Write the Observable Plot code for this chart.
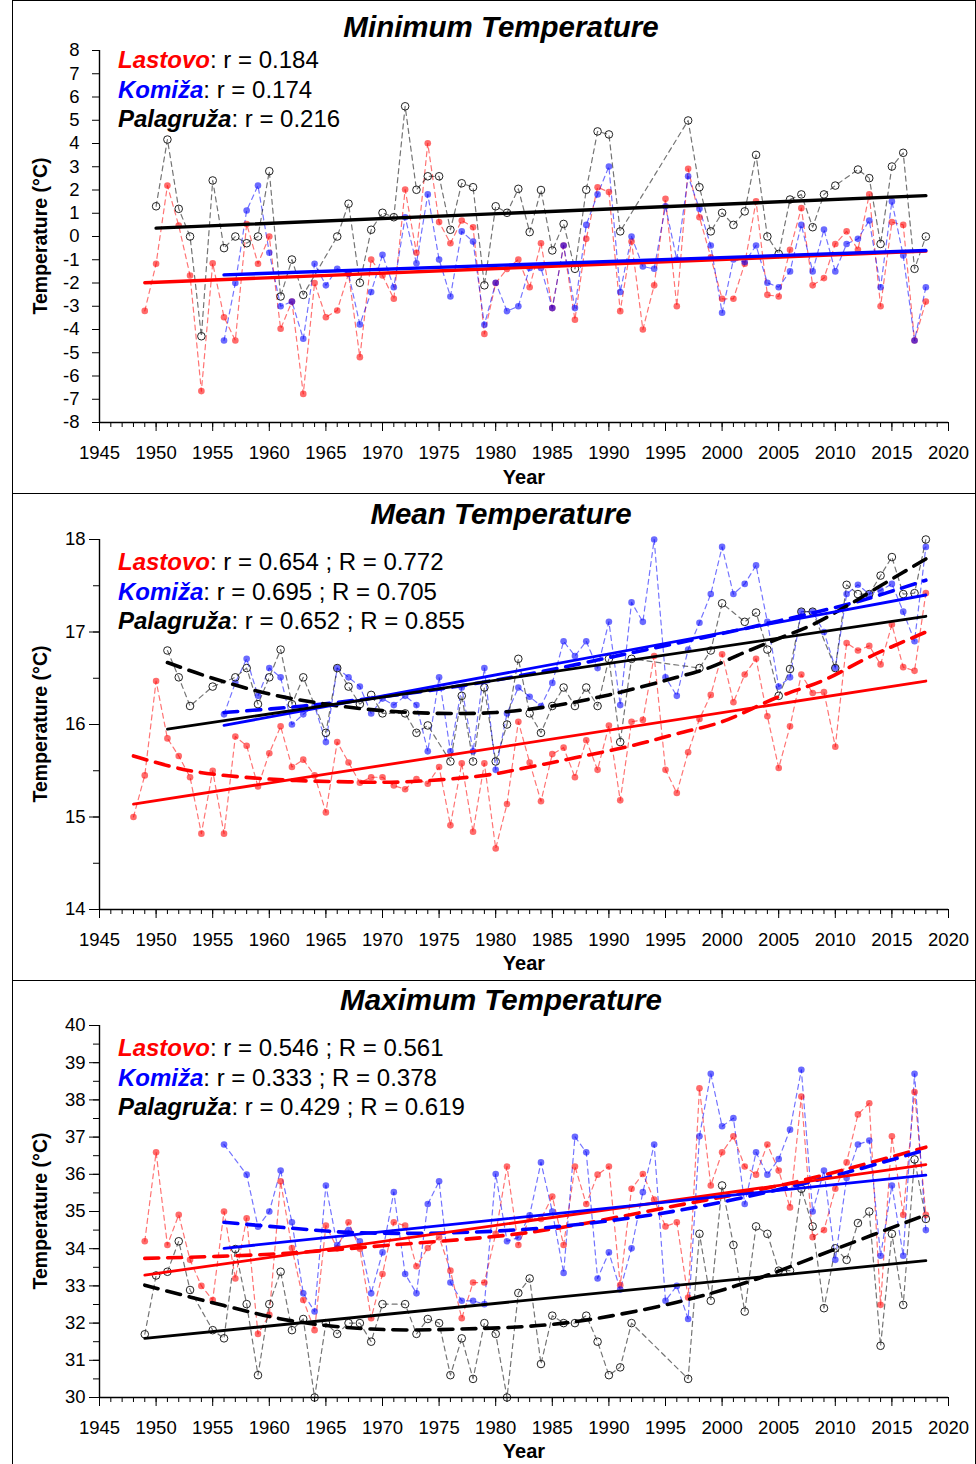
<!DOCTYPE html>
<html>
<head>
<meta charset="utf-8">
<script src="https://cdn.jsdelivr.net/npm/d3@7"></script>
<script src="https://cdn.jsdelivr.net/npm/@observablehq/plot@0.6"></script>
<style>
  body { margin: 0; background: #fff; font-family: "Liberation Sans", Arial, sans-serif; }
  #page { position: relative; width: 976px; height: 1464px; overflow: hidden; background: #fff; }
  .panel { position: absolute; left: 12px; width: 964px; border: 1.5px solid #000; box-sizing: border-box; }
  .plot { position: absolute; left: 12px; }
  .title { position: absolute; left: 0; width: 1002px; text-align: center; font-weight: bold; font-style: italic; font-size: 29.5px; line-height: 32px; color: #000; }
  .leg { position: absolute; left: 118px; font-size: 24px; line-height: 29.5px; color: #000; white-space: nowrap; }
  .leg b { font-style: italic; }
  .ylab { position: absolute; font-weight: bold; font-size: 19.5px; white-space: nowrap; transform: translate(-50%, -50%) rotate(-90deg); }
  .xlab { position: absolute; font-weight: bold; font-size: 20px; transform: translate(-50%, -50%); }
</style>
</head>
<body>
<div id="page"></div>
<script>
// ---------------- DATA ----------------
const stations = ["Lastovo", "Komiža", "Palagruža"];
const stationColors = ["#ff0000", "#0000ff", "#000000"];
const panelTitles = ["Minimum Temperature", "Mean Temperature", "Maximum Temperature"];
const legendMin = ["r = 0.184", "r = 0.174", "r = 0.216"];
const legendMean = ["r = 0.654 ; R = 0.772", "r = 0.695 ; R = 0.705", "r = 0.652 ; R = 0.855"];
const legendMax = ["r = 0.546 ; R = 0.561", "r = 0.333 ; R = 0.378", "r = 0.429 ; R = 0.619"];
const xMajorTicks = [1945, 1950, 1955, 1960, 1965, 1970, 1975, 1980, 1985, 1990, 1995, 2000, 2005, 2010, 2015, 2020];
const yTicksMin = [-8, -7, -6, -5, -4, -3, -2, -1, 0, 1, 2, 3, 4, 5, 6, 7, 8];
const yTicksMean = [14, 15, 16, 17, 18];
const yMinorMean = [14, 14.5, 15, 15.5, 16, 16.5, 17, 17.5, 18];
const yTicksMax = [30, 31, 32, 33, 34, 35, 36, 37, 38, 39, 40];
const yMinorMax = [30, 30.5, 31, 31.5, 32, 32.5, 33, 33.5, 34, 34.5, 35, 35.5, 36, 36.5, 37, 37.5, 38, 38.5, 39, 39.5, 40];

// Minimum temperature (°C), yearly values from the first year given
const minLastovoStart = 1949;
const minLastovo = [-3.2, -1.17, 2.19, 0.47, -1.68, -6.65, -1.15, -3.47, -4.47, 0.54,
  -1.17, 0.0, -3.97, -2.8, -6.77, -2.0, -3.47, -3.18, -1.6, -5.19,
  -0.99, -1.68, -2.68, 2.02, -0.7, 4.01, 0.62, -0.29, 0.69, 0.4,
  -4.19, -2.0, -1.4, -0.99, -2.18, -0.29, -3.08, -0.39, -3.58, -0.1,
  2.12, 1.91, -3.21, -0.22, -4.0, -2.1, 1.62, -3.0, 2.91, 0.83,
  -0.89, -2.68, -2.68, -1.17, 1.51, -2.51, -2.58, -0.57, 1.22, -2.1,
  -1.79, -0.32, 0.22, -0.57, 1.81, -3.0, 0.62, 0.5, -4.47, -2.8];
const minKomizaStart = 1956;
const minKomiza = [-4.47, -2.0, 1.12, 2.19, -0.7, -3.0, -2.8, -4.4, -1.17, -2.1,
  -1.39, -1.6, -3.78, -2.39, -0.79, -2.18, 0.83, -1.15, 1.81, -0.99,
  -2.58, 0.22, -0.22, -3.8, -1.99, -3.21, -3.0, -1.35, -1.35, -3.08,
  -0.39, -3.08, 0.5, 1.81, 3.01, -2.39, 0.0, -1.29, -1.39, 1.3,
  -0.99, 2.59, 1.19, -0.39, -3.28, -0.99, -1.1, -0.39, -1.99, -2.18,
  -1.5, 0.5, -1.5, 0.3, -1.5, -0.32, -0.1, 0.69, -2.18, 1.51,
  -0.82, -4.47, -2.18];
const minPalagruzaStart = 1950;
const minPalagruza = [1.3, 4.17, 1.19, 0.0, -4.29, 2.41, -0.5, 0.0, -0.29, 0.0,
  2.81, -2.58, -0.99, -2.51, null, null, 0.0, 1.41, -1.99, 0.29,
  1.02, 0.83, 5.6, 2.01, 2.59, 2.59, 0.29, 2.29, 2.12, -2.1,
  1.3, 1.02, 2.05, 0.19, 2.0, -0.6, 0.54, -1.39, 2.01, 4.52,
  4.39, 0.22, null, null, null, null, null, 4.99, 2.12, 0.22,
  1.02, 0.5, 1.08, 3.51, 0.0, -0.75, 1.59, 1.81, 0.4, 1.81,
  2.19, null, 2.88, 2.51, -0.32, 3.01, 3.6, -1.39, 0.0];

// Mean temperature (°C)
const meanLastovoStart = 1948;
const meanLastovo = [15.0, 15.45, 16.47, 15.85, 15.66, 15.43, 14.82, 15.5, 14.82, 15.87,
  15.77, 15.33, 15.69, 15.98, 15.54, 15.62, 15.45, 15.05, 15.81, 15.59,
  15.37, 15.43, 15.43, 15.34, 15.3, 15.41, 15.36, 15.54, 14.91, 15.58,
  14.84, 15.58, 14.66, 15.14, 16.03, 15.59, 15.17, 15.68, 15.75, 15.43,
  15.83, 15.51, 15.99, 15.18, 16.03, 16.05, 16.74, 15.51, 15.26, 15.7,
  16.06, 16.32, 16.76, 16.24, 16.54, 16.71, 16.09, 15.53, 15.98, 16.54,
  16.34, 16.35, 15.76, 16.88, 16.8, 16.85, 16.65, 17.08, 16.62, 16.58, 17.42];
const meanKomizaStart = 1956;
const meanKomiza = [16.11, 16.45, 16.71, 16.31, 16.61, 16.51, 16.0, 16.11, 16.2, 15.81,
  16.61, 16.51, 16.41, 16.12, 16.28, 16.21, 16.31, 16.21, 15.71, 16.51,
  15.71, 16.4, 15.71, 16.61, 15.51, 16.12, 16.4, 16.3, 16.2, 16.45,
  16.9, 16.74, 16.9, 16.61, 17.11, 16.21, 17.32, 17.11, 18.0, 16.51,
  16.31, 16.81, 17.1, 17.41, 17.92, 17.41, 17.52, 17.72, 17.11, 16.41,
  16.51, 17.22, 17.22, 17.0, 16.61, 17.41, 17.51, 17.41, 17.45, 17.52,
  17.22, 16.9, 17.92];
const meanPalagruzaStart = 1951;
const meanPalagruza = [16.8, 16.51, 16.2, null, 16.41, null, 16.51, 16.61, 16.22, 16.51,
  16.81, 16.22, 16.51, null, 15.91, 16.61, 16.41, 16.22, 16.32, 16.12,
  null, 16.12, 15.91, 15.99, null, 15.6, 16.31, 15.6, 16.4, 15.6,
  16.0, 16.71, 16.12, 15.91, 16.2, 16.4, 16.2, 16.4, 16.2, 16.71,
  15.81, 16.71, null, null, null, null, null, 16.61, 16.8, 17.31,
  null, 17.11, 17.21, 16.81, 16.31, 16.6, 17.22, 17.22, null, 16.61,
  17.51, 17.41, 17.41, 17.61, 17.81, 17.41, 17.42, 18.0];

// Maximum temperature (°C)
const maxLastovoStart = 1949;
const maxLastovo = [34.2, 36.59, 34.1, 34.91, 33.7, 33.0, 32.62, 35.0, 33.2, 34.82,
  31.71, 32.22, 35.81, 34.02, 32.62, 31.81, 34.62, 34.01, 34.71, 34.0,
  32.13, 33.32, 34.71, 34.62, 33.53, 34.02, 34.31, 33.41, 32.13, 33.09,
  33.09, 34.4, 36.21, 34.1, 34.82, 34.8, 35.4, 34.1, 36.21, 35.2,
  35.99, 36.21, 33.02, 35.61, 36.01, 35.32, 34.6, 34.71, 32.69, 38.31,
  35.7, 36.59, 37.02, 36.21, 35.99, 36.8, 36.1, 35.11, 38.09, 34.31,
  34.5, 35.61, 36.32, 37.61, 37.91, 32.49, 37.02, 34.91, 38.21, 34.91];
const maxKomizaStart = 1956;
const maxKomiza = [36.8, null, 35.99, 34.59, 35.0, 36.1, 34.71, 32.8, 32.31, 35.7,
  34.1, 34.5, 34.2, 32.8, 33.9, 35.52, 33.32, 32.8, 35.2, 35.81,
  33.09, 32.6, 32.6, 32.51, 36.01, 34.2, 34.3, 34.9, 36.32, 35.0,
  33.35, 37.01, 36.59, 33.2, 33.9, 32.9, 34.01, 35.52, 36.8, 32.6,
  33.0, 32.11, 37.02, 38.7, 37.29, 37.51, 35.2, 36.59, 35.99, 36.41,
  37.2, 38.81, 35.0, 36.1, 33.7, 35.9, 36.8, 36.91, 33.81, 35.7,
  33.81, 38.7, 34.5];
const maxPalagruzaStart = 1949;
const maxPalagruza = [31.7, 33.28, 33.38, 34.2, 32.89, null, 31.81, 31.59, 33.99, 32.51,
  30.6, 32.51, 33.38, 31.81, 32.11, 30.0, 32.0, 31.71, 32.0, 32.0,
  31.5, 32.51, null, 32.51, 31.71, 32.11, 32.0, 30.6, 31.59, 30.5,
  32.0, 31.71, 30.0, 32.81, 33.2, 30.9, 32.2, 32.0, 32.0, 32.2,
  31.5, 30.6, 30.81, 32.0, null, null, null, null, 30.5, 34.4,
  32.6, 35.7, 34.1, 32.31, 34.6, 34.4, 33.41, 33.41, 35.61, 34.6,
  32.4, 34.01, 33.7, 34.69, 35.0, 31.39, 34.4, 32.49, 36.4, 34.8];

// Linear trends [year, value]
const minTrendLastovo = [[1949, -1.99], [2018, -0.63]];
const minTrendKomiza = [[1956, -1.65], [2018, -0.6]];
const minTrendPalagruza = [[1950, 0.36], [2018, 1.76]];
const meanTrendLastovo = [[1948, 15.14], [2018, 16.47]];
const meanTrendKomiza = [[1956, 15.99], [2018, 17.4]];
const meanTrendPalagruza = [[1951, 15.95], [2018, 17.17]];
const maxTrendLastovo = [[1949, 33.29], [2018, 36.26]];
const maxTrendKomiza = [[1956, 34.01], [2018, 35.98]];
const maxTrendPalagruza = [[1949, 31.59], [2018, 33.68]];

// Non-linear (dashed) trends [year, value]
const meanCurveLastovo = [[1948, 15.66], [1953, 15.5], [1960, 15.41], [1967, 15.38], [1972, 15.38], [1979, 15.45], [1983, 15.54], [1987, 15.64], [1992, 15.77], [1996, 15.9], [2000, 16.03], [2005, 16.3], [2009, 16.48], [2013, 16.73], [2018, 17.0]];
const meanCurveKomiza = [[1956, 16.13], [1963, 16.2], [1970, 16.3], [1977, 16.42], [1984, 16.57], [1991, 16.75], [1998, 16.93], [2005, 17.12], [2012, 17.33], [2018, 17.56]];
const meanCurvePalagruza = [[1951, 16.67], [1955, 16.5], [1960, 16.33], [1965, 16.22], [1970, 16.15], [1975, 16.12], [1980, 16.13], [1985, 16.2], [1990, 16.32], [1996, 16.51], [1999, 16.62], [2002, 16.78], [2005, 16.93], [2008, 17.08], [2011, 17.28], [2014, 17.5], [2018, 17.79]];
const maxCurveLastovo = [[1949, 33.74], [1960, 33.85], [1970, 34.08], [1983, 34.44], [1996, 35.16], [2007, 35.83], [2018, 36.73]];
const maxCurveKomiza = [[1956, 34.71], [1962, 34.55], [1967, 34.44], [1975, 34.42], [1983, 34.53], [1990, 34.75], [1996, 35.02], [2004, 35.52], [2011, 36.05], [2018, 36.66]];
const maxCurvePalagruza = [[1949, 33.02], [1956, 32.47], [1962, 32.06], [1969, 31.84], [1977, 31.84], [1986, 32.0], [1996, 32.56], [2003, 33.18], [2010, 33.99], [2018, 34.91]];

// ---------------- DRAWING ----------------
const page = document.getElementById("page");
const xMinorTicks = d3.range(1945, 2021);

function toRows(start, values) {
  return values.map((v, i) => ({year: start + i, value: v})).filter(d => d.value !== null);
}
function pairRows(pairs) {
  return pairs.map(([year, value]) => ({year, value}));
}

function addDiv(cls, style, html) {
  const d = document.createElement("div");
  d.className = cls;
  Object.assign(d.style, style);
  d.innerHTML = html;
  page.appendChild(d);
  return d;
}

function drawPanel(cfg) {
  addDiv("panel", {top: cfg.boxTop + "px", height: cfg.boxHeight + "px"}, "");
  const marks = [];
  const lineStyles = [
    {stroke: "#ff0000", strokeOpacity: 0.55},
    {stroke: "#0000ff", strokeOpacity: 0.55},
    {stroke: "#000000", strokeOpacity: 0.55}
  ];
  // data dashed lines and points
  cfg.series.forEach((rows, i) => {
    marks.push(Plot.line(rows, {x: "year", y: "value", ...lineStyles[i], strokeWidth: 1.2, strokeDasharray: "5,4"}));
  });
  cfg.series.forEach((rows, i) => {
    if (i < 2) {
      marks.push(Plot.dot(rows, {x: "year", y: "value", r: 3.3, fill: stationColors[i], fillOpacity: 0.58, stroke: "none"}));
    } else {
      marks.push(Plot.dot(rows, {x: "year", y: "value", r: 3.8, fill: "none", stroke: "#222", strokeWidth: 1}));
    }
  });
  // trend lines
  (cfg.curves || []).forEach((rows, i) => {
    marks.push(Plot.line(rows, {x: "year", y: "value", stroke: stationColors[i], strokeWidth: 3.6, strokeDasharray: "14,9", curve: "catmull-rom"}));
  });
  cfg.trends.forEach((rows, i) => {
    marks.push(Plot.line(rows, {x: "year", y: "value", stroke: stationColors[i], strokeWidth: cfg.trendWidth}));
  });
  // axes
  marks.push(Plot.axisX({ticks: xMinorTicks, tickSize: 5, tickFormat: () => "", label: null}));
  marks.push(Plot.axisX({ticks: xMajorTicks, tickSize: 9, tickPadding: 14, tickFormat: d => String(d), label: null}));
  if (cfg.yMinor) marks.push(Plot.axisY({ticks: cfg.yMinor, tickSize: 6, tickFormat: () => "", label: null}));
  marks.push(Plot.axisY({ticks: cfg.yTicks, tickSize: cfg.yTickSize, tickPadding: cfg.yPad, tickFormat: d => String(d), label: null}));
  marks.push(Plot.ruleX([1945], {stroke: "#000", strokeWidth: 1.4}));
  marks.push(Plot.ruleY([cfg.yDomain[0]], {stroke: "#000", strokeWidth: 1.4}));

  const svg = Plot.plot({
    width: 964,
    height: cfg.height,
    marginLeft: 87,
    marginRight: 28,
    marginTop: cfg.marginTop,
    marginBottom: cfg.marginBottom,
    x: {domain: [1945, 2020], label: null},
    y: {domain: cfg.yDomain, label: null},
    style: {fontFamily: "'Liberation Sans', Arial, sans-serif", fontSize: "18.5px", color: "#000", background: "transparent", overflow: "visible"},
    marks
  });
  const wrap = document.createElement("div");
  wrap.className = "plot";
  wrap.style.top = cfg.top + "px";
  wrap.appendChild(svg);
  page.appendChild(wrap);

  addDiv("title", {top: (cfg.titleY - 16) + "px"}, cfg.title);
  const leg = cfg.legend.map((t, i) =>
    `<div><b style="color:${stationColors[i]}">${stations[i]}</b>: ${t}</div>`).join("");
  addDiv("leg", {top: cfg.legendTop + "px"}, leg);
  addDiv("ylab", {left: "40px", top: cfg.yLabY + "px"}, "Temperature (°C)");
  addDiv("xlab", {left: "524px", top: cfg.xLabY + "px"}, "Year");
}

drawPanel({
  boxTop: 0, boxHeight: 494, top: 0, height: 493, marginTop: 50, marginBottom: 71,
  yDomain: [-8, 8], yTicks: yTicksMin, yMinor: null, yTickSize: 7, yPad: 13,
  series: [toRows(minLastovoStart, minLastovo), toRows(minKomizaStart, minKomiza), toRows(minPalagruzaStart, minPalagruza)],
  trends: [pairRows(minTrendLastovo), pairRows(minTrendKomiza), pairRows(minTrendPalagruza)],
  curves: null, trendWidth: 3.4,
  title: panelTitles[0], titleY: 27, legend: legendMin, legendTop: 45, yLabY: 236, xLabY: 477
});
drawPanel({
  boxTop: 493, boxHeight: 488, top: 493, height: 487, marginTop: 46, marginBottom: 71,
  yDomain: [14, 18], yTicks: yTicksMean, yMinor: yMinorMean, yTickSize: 10, yPad: 4,
  series: [toRows(meanLastovoStart, meanLastovo), toRows(meanKomizaStart, meanKomiza), toRows(meanPalagruzaStart, meanPalagruza)],
  trends: [pairRows(meanTrendLastovo), pairRows(meanTrendKomiza), pairRows(meanTrendPalagruza)],
  curves: [pairRows(meanCurveLastovo), pairRows(meanCurveKomiza), pairRows(meanCurvePalagruza)], trendWidth: 2.8,
  title: panelTitles[1], titleY: 514, legend: legendMean, legendTop: 547, yLabY: 724, xLabY: 963
});
drawPanel({
  boxTop: 980, boxHeight: 490, top: 980, height: 484, marginTop: 45, marginBottom: 67,
  yDomain: [30, 40], yTicks: yTicksMax, yMinor: yMinorMax, yTickSize: 10, yPad: 4,
  series: [toRows(maxLastovoStart, maxLastovo), toRows(maxKomizaStart, maxKomiza), toRows(maxPalagruzaStart, maxPalagruza)],
  trends: [pairRows(maxTrendLastovo), pairRows(maxTrendKomiza), pairRows(maxTrendPalagruza)],
  curves: [pairRows(maxCurveLastovo), pairRows(maxCurveKomiza), pairRows(maxCurvePalagruza)], trendWidth: 2.8,
  title: panelTitles[2], titleY: 1000, legend: legendMax, legendTop: 1033, yLabY: 1211, xLabY: 1451
});
</script>
</body>
</html>
